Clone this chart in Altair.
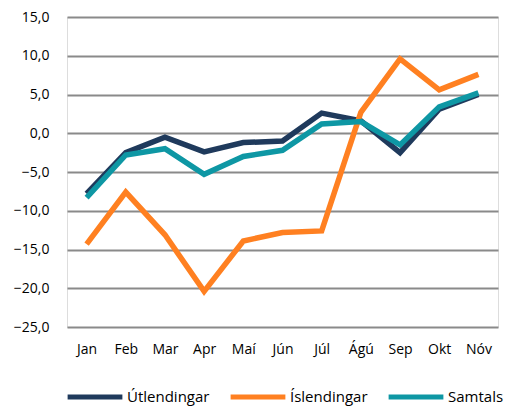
import altair as alt
import pandas as pd

months = ["Jan", "Feb", "Mar", "Apr", "Maí", "Jún", "Júl", "Ágú", "Sep", "Okt", "Nóv"]
series = ["Útlendingar", "Íslendingar", "Samtals"]
utlendingar = [-7.8, -2.5, -0.5, -2.4, -1.2, -1.0, 2.6, 1.6, -2.5, 3.1, 5.0]
islendingar = [-14.3, -7.6, -13.1, -20.4, -13.9, -12.8, -12.6, 2.7, 9.6, 5.6, 7.6]
samtals = [-8.3, -2.8, -2.0, -5.3, -3.0, -2.2, 1.2, 1.5, -1.5, 3.4, 5.2]
colors = ["#1F3A5C", "#FF8021", "#0E97A4"]

rows = []
for name, vals in zip(series, [utlendingar, islendingar, samtals]):
    for m, v in zip(months, vals):
        rows.append({"Mánuður": m, "Röð": name, "Gildi": v})
df = pd.DataFrame(rows)

font = "Open Sans"

chart = alt.Chart(df).mark_line(strokeWidth=5.5, strokeCap="butt", strokeJoin="miter").encode(
    x=alt.X("Mánuður:N", sort=months, title=None,
            scale=alt.Scale(paddingInner=0, paddingOuter=0.5),
            axis=alt.Axis(labelAngle=0, ticks=False, domain=False, grid=False,
                          labelFont=font, labelFontSize=14, labelColor="#000000",
                          labelPadding=15)),
    y=alt.Y("Gildi:Q", title=None,
            scale=alt.Scale(domain=[-25, 15], nice=False, zero=False),
            axis=alt.Axis(values=[-25, -20, -15, -10, -5, 0, 5, 10, 15],
                          labelExpr="replace(format(datum.value, '.1f'), '.', ',')",
                          ticks=False, domain=False, gridColor="#8A8A8A", gridWidth=2,
                          labelFont=font, labelFontSize=14, labelColor="#000000",
                          labelPadding=18)),
    color=alt.Color("Röð:N", sort=series,
                    scale=alt.Scale(domain=series, range=colors),
                    legend=alt.Legend(title=None, orient="none", direction="horizontal",
                                      legendX=-2, legendY=350,
                                      symbolType="stroke", symbolSize=3000,
                                      symbolStrokeWidth=5,
                                      labelFont=font, labelFontSize=15, labelColor="#000000",
                                      columnPadding=10, labelOffset=2)),
).properties(
    width=431, height=310,
    autosize=alt.AutoSizeParams(type="none"),
    padding={"left": 59, "top": 9, "right": 13, "bottom": 79},
).configure_view(stroke=None).configure(background="white")

chart.save("out.html", embed_options={"renderer": "svg", "actions": False})
